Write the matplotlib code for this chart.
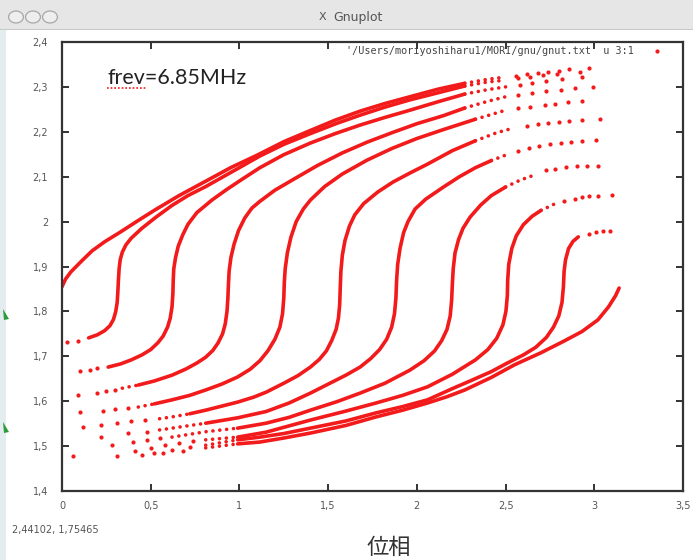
import matplotlib.pyplot as plt
from matplotlib.patches import Rectangle, Circle, Polygon
from matplotlib.lines import Line2D

# phase (x) / energy (y) points
# each trajectory: sparse dots at the start, a dense run, sparse dots at the end
c0_top = [(0.0, 1.855), (0.02, 1.872), (0.05, 1.888), (0.11, 1.912), (0.17, 1.935),
          (0.24, 1.955), (0.33, 1.977), (0.42, 2.0), (0.52, 2.025), (0.66, 2.058),
          (0.81, 2.09), (0.95, 2.12), (1.1, 2.148), (1.25, 2.178), (1.40, 2.203),
          (1.54, 2.226), (1.68, 2.246), (1.82, 2.263), (1.96, 2.278), (2.12, 2.295),
          (2.27, 2.308), (2.4, 2.317), (2.5, 2.322)]
c0_top_end = [(2.56, 2.325), (2.62, 2.328), (2.68, 2.331), (2.74, 2.334),
              (2.80, 2.336), (2.86, 2.339), (2.97, 2.342)]
c0_bot_start = [(0.06, 1.477), (0.45, 1.480), (0.57, 1.484), (0.68, 1.489)]
c0_bot = [(0.81, 1.496), (0.99, 1.505), (1.115, 1.509), (1.25, 1.518), (1.40, 1.529),
          (1.60, 1.546), (1.77, 1.565), (1.92, 1.58), (2.06, 1.596), (2.17, 1.61),
          (2.27, 1.625), (2.42, 1.653), (2.55, 1.681), (2.70, 1.708), (2.83, 1.734),
          (2.93, 1.755), (3.02, 1.781), (3.08, 1.81), (3.12, 1.835), (3.14, 1.852)]

c1_start = [(0.03, 1.732), (0.09, 1.734)]
c1 = [(0.15, 1.741), (0.20, 1.748), (0.24, 1.757), (0.27, 1.768), (0.29, 1.782),
      (0.303, 1.80), (0.311, 1.82), (0.315, 1.845), (0.318, 1.87), (0.322, 1.895),
      (0.328, 1.915), (0.34, 1.932), (0.36, 1.948), (0.39, 1.963), (0.45, 1.985),
      (0.53, 2.01), (0.62, 2.036), (0.71, 2.058), (0.81, 2.078), (0.90, 2.098),
      (0.99, 2.118), (1.115, 2.146), (1.25, 2.172), (1.40, 2.196), (1.55, 2.219),
      (1.68, 2.237), (1.82, 2.255), (1.96, 2.271), (2.12, 2.287), (2.27, 2.302),
      (2.4, 2.311), (2.5, 2.315)]
c1_end = [(2.57, 2.319), (2.64, 2.323), (2.71, 2.326), (2.79, 2.329), (2.92, 2.333)]

c2_start = [(0.10, 1.667), (0.16, 1.670), (0.20, 1.674)]
c2 = [(0.26, 1.676), (0.33, 1.683), (0.39, 1.692), (0.45, 1.703), (0.50, 1.715),
      (0.54, 1.73), (0.57, 1.745), (0.595, 1.765), (0.61, 1.785), (0.62, 1.81),
      (0.625, 1.84), (0.627, 1.87), (0.63, 1.895), (0.64, 1.92), (0.655, 1.945),
      (0.68, 1.97), (0.71, 1.994), (0.76, 2.02), (0.845, 2.048), (0.93, 2.072),
      (1.01, 2.093), (1.115, 2.12), (1.25, 2.149), (1.40, 2.175), (1.54, 2.196),
      (1.68, 2.215), (1.82, 2.232), (1.96, 2.248), (2.12, 2.267), (2.27, 2.284),
      (2.4, 2.294), (2.5, 2.300)]
c2_end = [(2.58, 2.305), (2.65, 2.309), (2.73, 2.313), (2.82, 2.317), (2.93, 2.322)]

c3_start = [(0.09, 1.614), (0.20, 1.618), (0.25, 1.623), (0.30, 1.626)]
c3 = [(0.34, 1.629), (0.43, 1.636), (0.52, 1.645), (0.62, 1.658), (0.70, 1.672),
      (0.76, 1.685), (0.81, 1.698), (0.85, 1.713), (0.88, 1.73), (0.905, 1.75),
      (0.92, 1.772), (0.93, 1.80), (0.935, 1.83), (0.938, 1.86), (0.942, 1.89),
      (0.952, 1.92), (0.97, 1.95), (0.995, 1.98), (1.03, 2.008), (1.07, 2.03),
      (1.115, 2.045), (1.20, 2.07), (1.30, 2.093), (1.44, 2.125), (1.58, 2.153),
      (1.72, 2.177), (1.86, 2.198), (2.0, 2.218), (2.15, 2.236), (2.27, 2.253),
      (2.4, 2.268), (2.5, 2.278)]
c3_end = [(2.57, 2.282), (2.65, 2.287), (2.73, 2.291), (2.81, 2.294), (2.89, 2.297),
          (2.99, 2.300)]

c4_start = [(0.10, 1.576), (0.23, 1.578), (0.30, 1.583), (0.37, 1.585)]
c4 = [(0.43, 1.587), (0.52, 1.594), (0.62, 1.603), (0.72, 1.613), (0.81, 1.625),
      (0.90, 1.638), (0.99, 1.654), (1.06, 1.671), (1.115, 1.690), (1.16, 1.712),
      (1.20, 1.738), (1.228, 1.765), (1.243, 1.795), (1.25, 1.83), (1.253, 1.865),
      (1.258, 1.895), (1.27, 1.93), (1.29, 1.965), (1.32, 2.0), (1.36, 2.028),
      (1.40, 2.048), (1.48, 2.078), (1.58, 2.106), (1.72, 2.137), (1.86, 2.163),
      (2.0, 2.185), (2.15, 2.205), (2.33, 2.228), (2.5, 2.248)]
c4_end = [(2.57, 2.252), (2.64, 2.256), (2.72, 2.260), (2.78, 2.263), (2.85, 2.266),
          (2.93, 2.268)]

c5_start = [(0.12, 1.543), (0.22, 1.547), (0.31, 1.551), (0.39, 1.555), (0.47, 1.558)]
c5 = [(0.55, 1.561), (0.62, 1.565), (0.72, 1.572), (0.81, 1.58), (0.90, 1.589),
      (0.99, 1.598), (1.08, 1.609), (1.15, 1.620), (1.25, 1.64), (1.33, 1.657),
      (1.40, 1.676), (1.45, 1.693), (1.49, 1.712), (1.52, 1.735), (1.545, 1.76),
      (1.558, 1.785), (1.565, 1.815), (1.568, 1.85), (1.572, 1.89), (1.58, 1.925),
      (1.595, 1.958), (1.62, 1.99), (1.65, 2.015), (1.70, 2.04), (1.78, 2.066),
      (1.865, 2.088), (1.96, 2.108), (2.06, 2.128), (2.2, 2.158), (2.33, 2.18),
      (2.45, 2.198), (2.55, 2.209)]
c5_end = [(2.62, 2.214), (2.68, 2.217), (2.74, 2.220), (2.80, 2.222), (2.86, 2.224),
          (2.93, 2.226), (3.03, 2.228)]

c6_start = [(0.22, 1.520), (0.37, 1.529), (0.48, 1.532)]
c6 = [(0.55, 1.536), (0.62, 1.54), (0.81, 1.551), (0.99, 1.563), (1.15, 1.577),
      (1.28, 1.596), (1.40, 1.618), (1.50, 1.638), (1.60, 1.658), (1.68, 1.676),
      (1.74, 1.695), (1.79, 1.715), (1.83, 1.738), (1.858, 1.765), (1.874, 1.795),
      (1.882, 1.83), (1.886, 1.87), (1.892, 1.905), (1.905, 1.94), (1.925, 1.975),
      (1.95, 2.0), (1.99, 2.028), (2.05, 2.05), (2.15, 2.077), (2.24, 2.1),
      (2.33, 2.12), (2.42, 2.136), (2.50, 2.148)]
c6_end = [(2.57, 2.157), (2.63, 2.163), (2.69, 2.168), (2.75, 2.172), (2.81, 2.175),
          (2.87, 2.178), (2.93, 2.180), (3.01, 2.182)]

c7_start = [(0.28, 1.502), (0.40, 1.510), (0.48, 1.514), (0.55, 1.518)]
c7 = [(0.62, 1.52), (0.81, 1.532), (0.99, 1.54), (1.15, 1.551), (1.28, 1.564),
      (1.40, 1.58), (1.55, 1.599), (1.68, 1.618), (1.82, 1.64), (1.96, 1.669),
      (2.04, 1.69), (2.10, 1.712), (2.14, 1.735), (2.17, 1.76), (2.188, 1.79),
      (2.196, 1.825), (2.2, 1.86), (2.205, 1.895), (2.215, 1.93), (2.235, 1.96),
      (2.26, 1.985), (2.30, 2.01), (2.36, 2.037), (2.42, 2.058), (2.50, 2.077),
      (2.58, 2.092), (2.65, 2.102)]
c7_end = [(2.73, 2.114), (2.78, 2.118), (2.84, 2.121), (2.90, 2.123), (2.96, 2.124),
          (3.02, 2.124)]

c8_start = [(0.31, 1.477), (0.41, 1.488), (0.50, 1.496), (0.58, 1.502), (0.66, 1.507),
            (0.74, 1.511)]
c8 = [(0.81, 1.514), (0.99, 1.52), (1.15, 1.531), (1.40, 1.558), (1.60, 1.578),
      (1.77, 1.596), (1.92, 1.613), (2.06, 1.632), (2.20, 1.66), (2.33, 1.692),
      (2.40, 1.715), (2.45, 1.74), (2.485, 1.77), (2.502, 1.80), (2.51, 1.835),
      (2.512, 1.87), (2.518, 1.905), (2.535, 1.94), (2.56, 1.968), (2.60, 1.993),
      (2.65, 2.012), (2.70, 2.025), (2.78, 2.040)]
c8_end = [(2.83, 2.046), (2.89, 2.051), (2.93, 2.054), (2.97, 2.056), (3.02, 2.058),
          (3.10, 2.059)]

c9_start = [(0.52, 1.485), (0.62, 1.491), (0.72, 1.497)]
c9 = [(0.81, 1.502), (0.99, 1.514), (1.115, 1.52), (1.25, 1.528), (1.40, 1.54),
      (1.60, 1.556), (1.77, 1.574), (1.92, 1.588), (2.06, 1.603), (2.20, 1.628),
      (2.30, 1.645), (2.42, 1.666), (2.51, 1.685), (2.60, 1.703), (2.67, 1.72),
      (2.73, 1.742), (2.77, 1.765), (2.80, 1.79), (2.818, 1.82), (2.826, 1.855),
      (2.83, 1.89), (2.838, 1.915), (2.855, 1.94), (2.88, 1.956), (2.91, 1.966)]
c9_end = [(2.97, 1.972), (3.01, 1.976), (3.05, 1.978), (3.09, 1.979)]

# phase below / above which a run reads as a row of close dots instead of a solid band
dotted_below = [None, 1.1, None, 0.3, 0.45, 0.6, 0.75, 0.95, 1.0, 1.05, 1.1]
dotted_above = [2.25, None, 2.25, 2.25, 2.25, 2.3, 2.3, 2.4, 2.5, 2.7, 3.0]

dense = [c0_top, c0_bot, c1, c2, c3, c4, c5, c6, c7, c8, c9]
sparse = [c0_top_end, c0_bot_start, c1_start, c1_end, c2_start, c2_end, c3_start,
          c3_end, c4_start, c4_end, c5_start, c5_end, c6_start, c6_end, c7_start,
          c7_end, c8_start, c8_end, c9_start, c9_end]

xticks = [0, 0.5, 1, 1.5, 2, 2.5, 3, 3.5]
xlabels = ['0', '0,5', '1', '1,5', '2', '2,5', '3', '3,5']
yticks = [1.4, 1.5, 1.6, 1.7, 1.8, 1.9, 2.0, 2.1, 2.2, 2.3, 2.4]
ylabels = ['1,4', '1,5', '1,6', '1,7', '1,8', '1,9', '2', '2,1', '2,2', '2,3', '2,4']

legend_label = "'/Users/moriyoshiharu1/MORI/gnu/gnut.txt' u 3:1"
red = '#f21a1a'

fig = plt.figure(figsize=(6.93, 5.60), dpi=100)
W, H = 693, 560

# window chrome (title bar, side strip)
fig.patches.append(Rectangle((0, 1 - 30 / H), 1, 30 / H, transform=fig.transFigure,
                             facecolor='#e6e6e6', edgecolor='none'))
fig.patches.append(Rectangle((0, 1 - 30 / H), 1, 1 / H, transform=fig.transFigure,
                             facecolor='#c8c8c8', edgecolor='none'))
fig.patches.append(Rectangle((0, 0), 6 / W, 1 - 30 / H, transform=fig.transFigure,
                             facecolor='#e3ecee', edgecolor='none'))
for cx in [16, 33, 50]:
    fig.patches.append(Circle((cx / W, 1 - 17 / H), 6 / H, transform=fig.transFigure,
                              facecolor='#eeeeee', edgecolor='#a8a8a8', lw=0.9))
fig.text(322 / W, 1 - 17 / H, 'X', fontsize=8, color='#555555', ha='center', va='center')
fig.text(333 / W, 1 - 17 / H, 'Gnuplot', fontsize=9, color='#555555', ha='left', va='center')

# stray green marks at the left edge
for gy in [315, 428]:
    fig.patches.append(Polygon([(3 / W, 1 - (gy - 6) / H), (9 / W, 1 - (gy + 4) / H),
                                (4 / W, 1 - (gy + 5) / H)], closed=True,
                               transform=fig.transFigure, facecolor='#2e9a3a', edgecolor='none'))

ax = fig.add_axes([62 / W, 1 - 491 / H, (683 - 62) / W, (491 - 42) / H])

lw = 2.6
dots = (0, (0.01, 1.9))
for seg, lo, hi in zip(dense, dotted_below, dotted_above):
    xs = [p[0] for p in seg]
    ys = [p[1] for p in seg]
    n = len(xs)
    i_lo = 0
    i_hi = n - 1
    if lo is not None:
        i_lo = max(i for i in range(n) if xs[i] <= lo)
    if hi is not None:
        i_hi = min(i for i in range(n) if xs[i] >= hi) if xs[-1] >= hi else n - 1
    if i_lo > 0:
        ax.plot(xs[:i_lo + 1], ys[:i_lo + 1], color=red, lw=lw, ls=dots,
                dash_capstyle='round')
    ax.plot(xs[i_lo:i_hi + 1], ys[i_lo:i_hi + 1], color=red, lw=lw,
            solid_capstyle='round', solid_joinstyle='round')
    if i_hi < n - 1:
        ax.plot(xs[i_hi:], ys[i_hi:], color=red, lw=lw, ls=dots, dash_capstyle='round')

for i, seg in enumerate(sparse):
    xs = [p[0] for p in seg]
    ys = [p[1] for p in seg]
    ax.plot(xs, ys, ls='none', marker='o', ms=3.0, mec='none', mfc=red,
            label=legend_label if i == 0 else None)

ax.set_xlim(0, 3.5)
ax.set_ylim(1.4, 2.4)
ax.set_xticks(xticks)
ax.set_xticklabels(xlabels)
ax.set_yticks(yticks)
ax.set_yticklabels(ylabels)
ax.tick_params(direction='in', length=5, width=1.4, color='#333333', top=True, right=True,
               labelsize=7, labelcolor='#555555')
ax.tick_params(axis='y', pad=10)
ax.tick_params(axis='x', pad=7)
for s in ax.spines.values():
    s.set_linewidth(1.6)
    s.set_color('#333333')

leg = ax.legend(loc='upper right', bbox_to_anchor=(0.981, 1.0), borderaxespad=0,
                frameon=False, markerfirst=False, handlelength=2.0, handletextpad=1.3,
                prop={'family': 'DejaVu Sans Mono', 'size': 7.3})
for t in leg.get_texts():
    t.set_color('#444444')

ax.text(107 / W, 1 - 78 / H, 'frev=6.85MHz', transform=fig.transFigure, family='Lato',
        fontsize=15.5, color='#222222', ha='left', va='center')
fig.add_artist(Line2D([107 / W, 146 / W], [1 - 88 / H, 1 - 88 / H], color=red, lw=1.2,
                      ls=(0, (1, 1.2))))

fig.text(12 / W, 1 - 530 / H, '2,44102, 1,75465', fontsize=7, color='#555555',
         ha='left', va='center')
fig.text(389 / W, 1 - 547 / H, '位相', family=['Noto Sans CJK JP', 'DejaVu Sans'],
         fontsize=16, color='#333333', ha='center', va='center')

plt.savefig('out.png', dpi=100)
